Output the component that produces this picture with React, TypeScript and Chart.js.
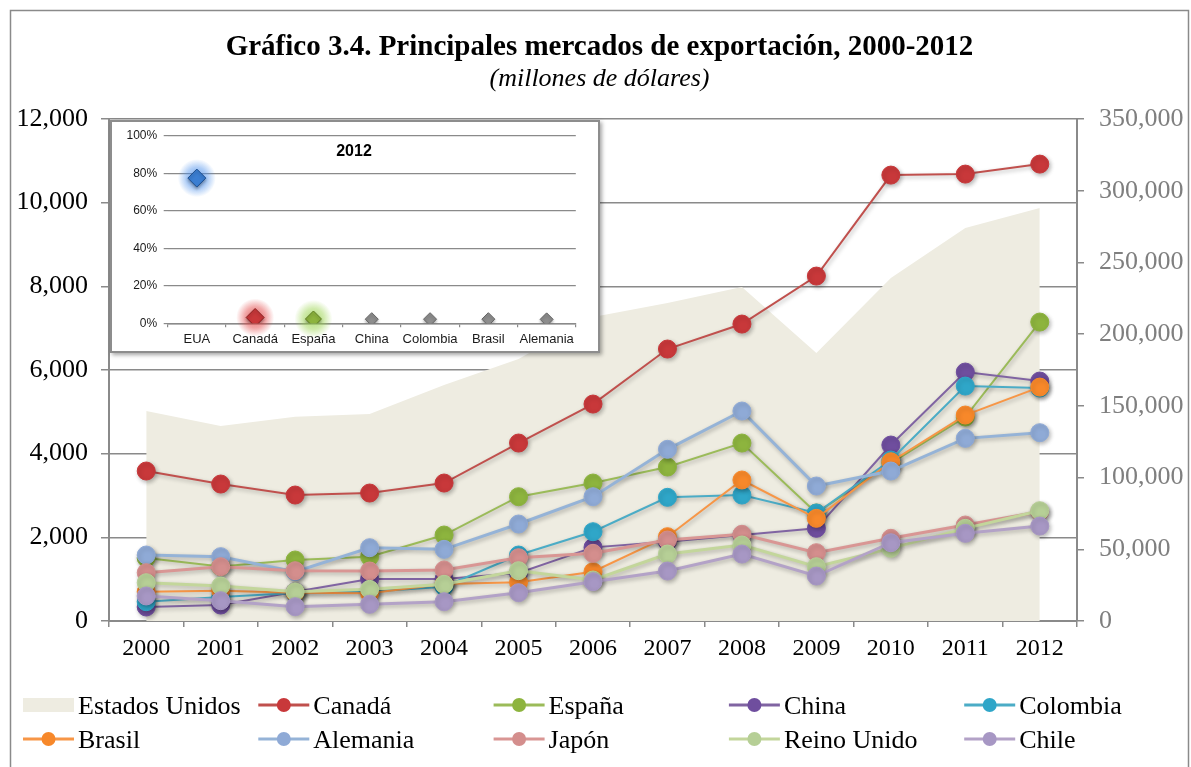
import React, { useEffect, useRef } from "react";
import { Chart, registerables } from "chart.js";

Chart.register(...registerables);

// ---------- Data ----------
const years = ["2000", "2001", "2002", "2003", "2004", "2005", "2006", "2007", "2008", "2009", "2010", "2011", "2012"];

const estadosUnidos = [146400, 136000, 142400, 144300, 164500, 182700, 212000, 221700, 232900, 186900, 239100, 274000, 288000];
const canada = [3585, 3274, 3011, 3059, 3298, 4254, 5186, 6501, 7098, 8245, 10659, 10683, 10922];
const espana = [1506, 1300, 1458, 1537, 2055, 2971, 3298, 3681, 4254, 2581, 3776, 4876, 7146];
const china = [335, 382, 700, 1004, 1004, 1147, 1760, 1895, 2055, 2215, 4206, 5951, 5736];
const colombia = [461, 574, 669, 700, 820, 1577, 2134, 2956, 3011, 2581, 3848, 5616, 5568];
const brasil = [700, 724, 677, 662, 884, 925, 1178, 2015, 3370, 2454, 3807, 4923, 5592];
const alemania = [1577, 1538, 1178, 1752, 1713, 2318, 2971, 4104, 5019, 3227, 3585, 4366, 4501];
const japon = [1155, 1298, 1203, 1195, 1219, 1513, 1618, 1936, 2072, 1633, 1976, 2294, 2612];
const reinoUnido = [916, 836, 700, 757, 877, 1203, 980, 1601, 1817, 1298, 1737, 2215, 2636];
const chile = [598, 485, 342, 399, 461, 677, 940, 1195, 1601, 1075, 1871, 2096, 2270];

const leftTicks = [0, 2000, 4000, 6000, 8000, 10000, 12000];
const rightTicks = [0, 50000, 100000, 150000, 200000, 250000, 300000, 350000];

const insetCategories = ["EUA", "Canadá", "España", "China", "Colombia", "Brasil", "Alemania"];
const insetShare = [77.4, 3.1, 2.3, 2.2, 2.2, 2.2, 2.1];
const insetTicks = [0, 20, 40, 60, 80, 100];

const titleText = "Gráfico 3.4. Principales mercados de exportación, 2000-2012";
const subtitleText = "(millones de dólares)";
const insetTitle = "2012";

// ---------- Styles ----------
const SERIF = "'Liberation Serif', 'Times New Roman', serif";
const SANS = "'Liberation Sans', Arial, sans-serif";
const GRID = "#8a8a8a";
const AREA = "#EEECE1";

const lineSeries = [
  { label: "Canadá", data: canada, line: "#C0504D", marker: "#C8383A", width: 2 },
  { label: "España", data: espana, line: "#9BBB59", marker: "#8DB43E", width: 2 },
  { label: "China", data: china, line: "#8064A2", marker: "#6F4E9E", width: 2 },
  { label: "Colombia", data: colombia, line: "#4BACC6", marker: "#2FA6C8", width: 2 },
  { label: "Brasil", data: brasil, line: "#F79646", marker: "#F7882A", width: 2 },
  { label: "Alemania", data: alemania, line: "#95B3D7", marker: "#8FAAD6", width: 3 },
  { label: "Japón", data: japon, line: "#D99694", marker: "#D48E8D", width: 3 },
  { label: "Reino Unido", data: reinoUnido, line: "#C3D69B", marker: "#B6CF96", width: 3 },
  { label: "Chile", data: chile, line: "#B3A2C7", marker: "#A797C4", width: 3 },
];

const insetFill = ["#3B7ED2", "#C8383A", "#8DB43E", "#8E8E8E", "#8E8E8E", "#8E8E8E", "#8E8E8E"];
const insetBorder = ["#1E4F8F", "#8A1E1E", "#5C7D20", "#666666", "#666666", "#666666", "#666666"];
const insetRadius = [9, 9, 8, 6.5, 6.5, 6.5, 6.5];
const insetGlow = ["70,140,235", "225,60,60", "150,210,70", "", "", "", ""];

const fmt = (v: number) => Number(v).toLocaleString("en-US");

// ---------- Plugins ----------
const shadowPlugin = {
  id: "shadowPlugin",
  beforeDatasetDraw(chart: any) {
    const ctx = chart.ctx;
    ctx.save();
    ctx.shadowColor = "rgba(0,0,0,0.28)";
    ctx.shadowBlur = 4;
    ctx.shadowOffsetX = 1.5;
    ctx.shadowOffsetY = 2;
  },
  afterDatasetDraw(chart: any) {
    chart.ctx.restore();
  },
};

const decorPlugin = {
  id: "decorPlugin",
  beforeDraw(chart: any) {
    const ctx = chart.ctx;
    ctx.save();
    ctx.fillStyle = "#ffffff";
    ctx.fillRect(0, 0, chart.width, chart.height);
    ctx.strokeStyle = GRID;
    ctx.lineWidth = 1.5;
    ctx.strokeRect(10.5, 10.5, 1178, 820);
    ctx.fillStyle = "#000";
    ctx.textAlign = "center";
    ctx.textBaseline = "alphabetic";
    ctx.font = `bold 29px ${SERIF}`;
    ctx.fillText(titleText, 599.5, 55);
    ctx.font = `italic 26px ${SERIF}`;
    ctx.fillText(subtitleText, 599.5, 86);
    ctx.restore();
  },
  afterDraw(chart: any) {
    const ctx = chart.ctx;
    ctx.save();
    const ds = chart.data.datasets;
    ds.forEach((d: any, i: number) => {
      const col = i % 5;
      const row = Math.floor(i / 5);
      const x0 = 23 + col * 235.3;
      const y = row === 0 ? 705 : 739;
      if (d.fill) {
        ctx.fillStyle = d.backgroundColor;
        ctx.fillRect(x0, y - 7, 51, 14);
      } else {
        ctx.strokeStyle = d.borderColor;
        ctx.lineWidth = 3;
        ctx.beginPath();
        ctx.moveTo(x0, y);
        ctx.lineTo(x0 + 51, y);
        ctx.stroke();
        ctx.fillStyle = d.pointBackgroundColor;
        ctx.beginPath();
        ctx.arc(x0 + 25.5, y, 7, 0, Math.PI * 2);
        ctx.fill();
      }
      ctx.fillStyle = "#000";
      ctx.font = `26px ${SERIF}`;
      ctx.textAlign = "left";
      ctx.textBaseline = "alphabetic";
      ctx.fillText(d.label, x0 + 55, y + 8.5);
    });
    ctx.restore();
  },
};

const insetPlugin = {
  id: "insetPlugin",
  beforeDatasetsDraw(chart: any) {
    const ctx = chart.ctx;
    const meta = chart.getDatasetMeta(0);
    ctx.save();
    meta.data.forEach((el: any, i: number) => {
      const c = insetGlow[i];
      if (!c) return;
      const g = ctx.createRadialGradient(el.x, el.y, 0, el.x, el.y, 19);
      g.addColorStop(0, `rgba(${c},0.75)`);
      g.addColorStop(0.55, `rgba(${c},0.45)`);
      g.addColorStop(1, `rgba(${c},0)`);
      ctx.fillStyle = g;
      ctx.beginPath();
      ctx.arc(el.x, el.y, 19, 0, Math.PI * 2);
      ctx.fill();
    });
    ctx.restore();
  },
  beforeDatasetDraw(chart: any) {
    const ctx = chart.ctx;
    ctx.save();
    ctx.shadowColor = "rgba(0,0,0,0.3)";
    ctx.shadowBlur = 3;
    ctx.shadowOffsetY = 2;
  },
  afterDatasetDraw(chart: any) {
    chart.ctx.restore();
  },
  afterDraw(chart: any) {
    const ctx = chart.ctx;
    ctx.save();
    ctx.fillStyle = "#000";
    ctx.font = `bold 16px ${SANS}`;
    ctx.textAlign = "center";
    ctx.textBaseline = "middle";
    ctx.fillText(insetTitle, 242, 30);
    ctx.restore();
  },
};

export default function App() {
  const mainRef = useRef<HTMLCanvasElement | null>(null);
  const insetRef = useRef<HTMLCanvasElement | null>(null);

  useEffect(() => {
    if (!mainRef.current || !insetRef.current) return;

    const datasets: any[] = [
      {
        label: "Estados Unidos",
        data: estadosUnidos,
        yAxisID: "y1",
        fill: "origin",
        backgroundColor: AREA,
        borderColor: AREA,
        borderWidth: 0,
        pointRadius: 0,
        order: 50,
      },
      ...lineSeries.map((s, i) => ({
        label: s.label,
        data: s.data,
        yAxisID: "y",
        fill: false,
        borderColor: s.line,
        borderWidth: s.width,
        backgroundColor: s.marker,
        pointBackgroundColor: s.marker,
        pointBorderColor: s.marker,
        pointBorderWidth: 1,
        pointRadius: 9,
        pointHoverRadius: 9,
        order: 20 - i,
      })),
    ];

    const main = new Chart(mainRef.current, {
      type: "line",
      data: { labels: years, datasets },
      options: {
        responsive: false,
        animation: false,
        events: [],
        layout: { padding: { top: 119, bottom: 96, left: 0, right: 0 } },
        plugins: { legend: { display: false }, tooltip: { enabled: false }, title: { display: false } },
        scales: {
          x: {
            offset: true,
            grid: { offset: true, drawOnChartArea: false, drawTicks: true, tickLength: 6, color: GRID, lineWidth: 1.5 },
            border: { display: true, color: GRID, width: 2 },
            ticks: { font: { family: SERIF, size: 24 }, color: "#000", padding: 7, maxRotation: 0, autoSkip: false },
            afterFit: (s: any) => { s.height = 50; },
          },
          y: {
            position: "left",
            min: leftTicks[0],
            max: leftTicks[leftTicks.length - 1],
            afterBuildTicks: (s: any) => { s.ticks = leftTicks.map((v) => ({ value: v })); },
            ticks: { font: { family: SERIF, size: 26 }, color: "#000", padding: 13, callback: (v: any) => fmt(v) },
            grid: { color: GRID, lineWidth: 1.5, tickLength: 8 },
            border: { display: true, color: GRID, width: 2 },
            afterFit: (s: any) => { s.width = 109; },
          },
          y1: {
            position: "right",
            min: rightTicks[0],
            max: rightTicks[rightTicks.length - 1],
            afterBuildTicks: (s: any) => { s.ticks = rightTicks.map((v) => ({ value: v })); },
            ticks: { font: { family: SERIF, size: 26 }, color: "#7f7f7f", padding: 15, callback: (v: any) => fmt(v) },
            grid: { drawOnChartArea: false, color: GRID, lineWidth: 1.5, tickLength: 7 },
            border: { display: true, color: GRID, width: 2 },
            afterFit: (s: any) => { s.width = 114; },
          },
        },
      },
      plugins: [decorPlugin, shadowPlugin],
    } as any);

    const inset = new Chart(insetRef.current, {
      type: "line",
      data: {
        labels: insetCategories,
        datasets: [
          {
            label: "2012",
            data: insetShare,
            showLine: false,
            pointStyle: "rectRot",
            pointRadius: insetRadius,
            pointHoverRadius: insetRadius,
            pointBackgroundColor: insetFill,
            pointBorderColor: insetBorder,
            pointBorderWidth: 1,
          },
        ],
      },
      options: {
        responsive: false,
        animation: false,
        events: [],
        layout: { padding: { top: 13.7, right: 22.2, bottom: 0, left: 0 } },
        plugins: { legend: { display: false }, tooltip: { enabled: false } },
        scales: {
          x: {
            offset: true,
            grid: { offset: true, drawOnChartArea: false, tickLength: 4, color: GRID, lineWidth: 1.2 },
            border: { display: true, color: GRID, width: 1.5 },
            ticks: { font: { family: SANS, size: 13 }, color: "#1a1a1a", padding: 4, maxRotation: 0, autoSkip: false },
            afterFit: (s: any) => { s.height = 27.7; },
          },
          y: {
            min: insetTicks[0],
            max: insetTicks[insetTicks.length - 1],
            afterBuildTicks: (s: any) => { s.ticks = insetTicks.map((v) => ({ value: v })); },
            ticks: { font: { family: SANS, size: 12 }, color: "#1a1a1a", padding: 6.5, callback: (v: any) => v + "%" },
            grid: { color: GRID, lineWidth: 1.2, tickLength: 4 },
            border: { display: false },
            afterFit: (s: any) => { s.width = 55.7; },
          },
        },
      },
      plugins: [insetPlugin],
    } as any);

    return () => {
      main.destroy();
      inset.destroy();
    };
  }, []);

  return (
    <div style={{ position: "fixed", left: 0, top: 0, width: 1191, height: 767, background: "#fff", overflow: "hidden" }}>
      <canvas ref={mainRef} width={1191} height={767} style={{ position: "absolute", left: 0, top: 0, width: 1191, height: 767 }} />
      <div
        style={{
          position: "absolute",
          left: 110,
          top: 120,
          width: 486,
          height: 229,
          border: "2px solid #8d8d8d",
          background: "#fff",
          boxShadow: "2px 2px 4px rgba(0,0,0,0.35)",
        }}
      >
        <canvas ref={insetRef} width={486} height={229} style={{ display: "block", width: 486, height: 229 }} />
      </div>
    </div>
  );
}
